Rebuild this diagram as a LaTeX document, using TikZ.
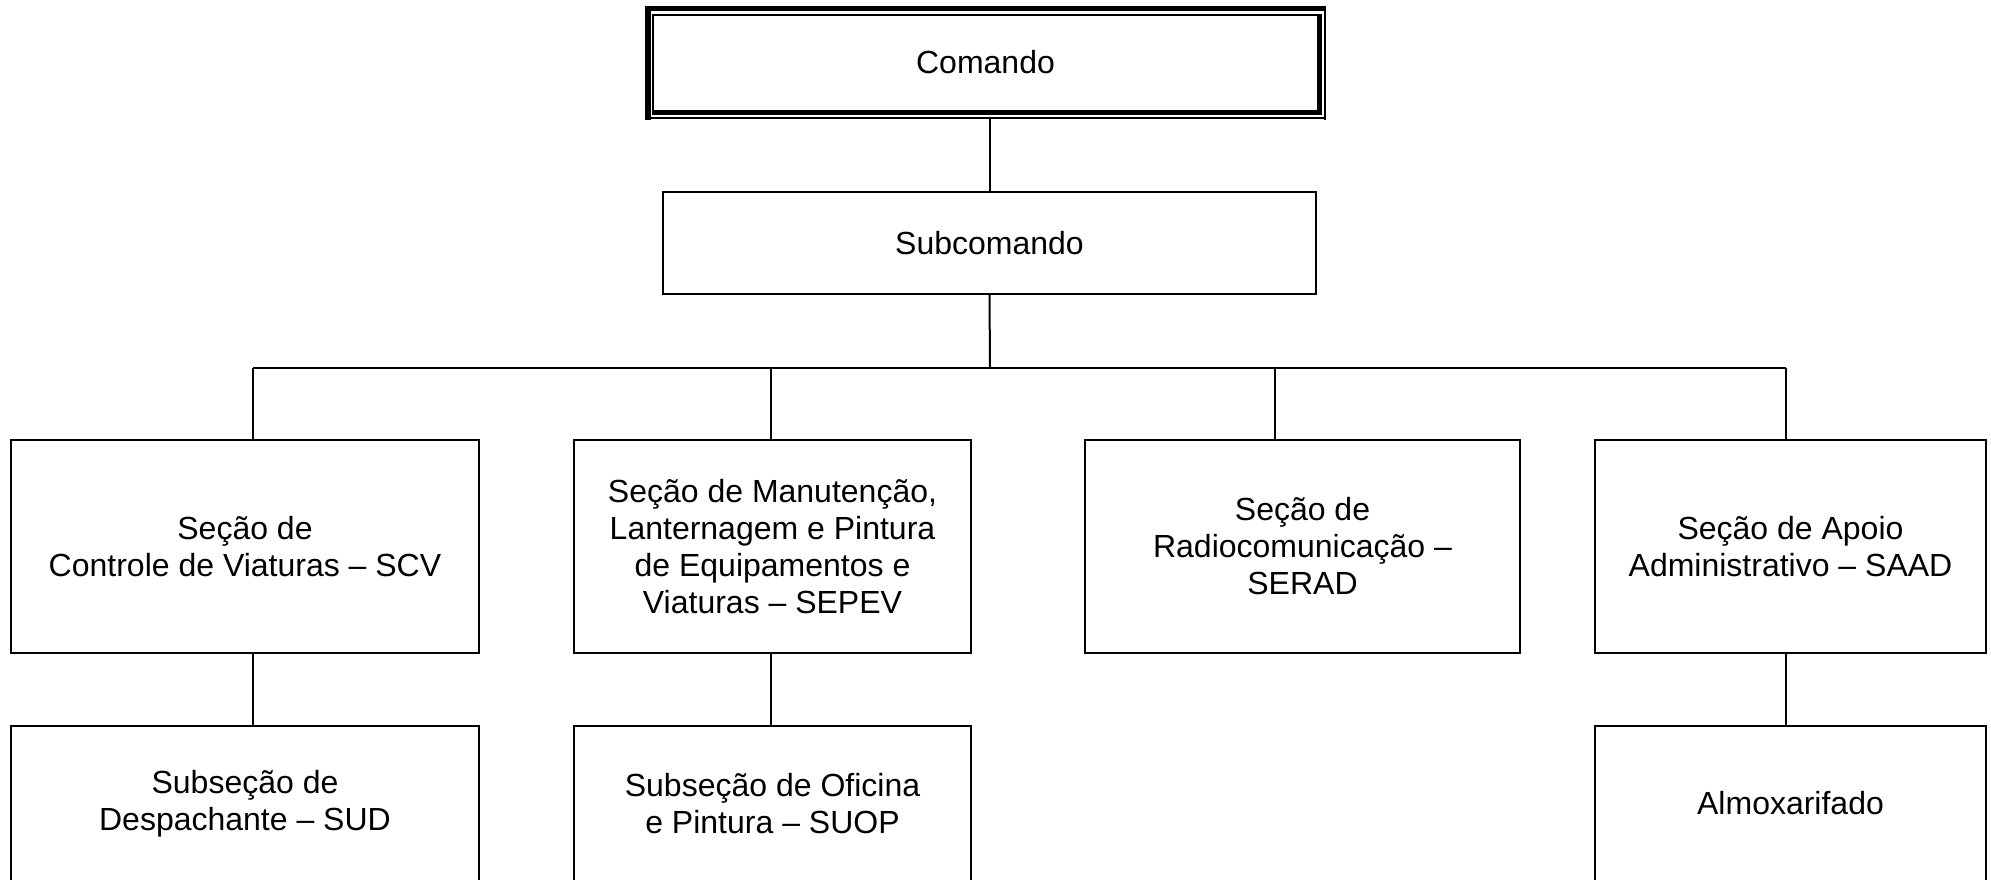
\documentclass[tikz,border=0pt]{standalone}
\usepackage{fontspec}
\setmainfont{Liberation Sans}
\begin{document}
\begin{tikzpicture}[x=0.5pt,y=-0.5pt,
  every node/.style={font=\fontsize{16pt}{18.5pt}\selectfont, align=center, inner sep=0pt},
  orgbox/.style={draw=black, line width=1pt, rectangle, minimum height=106.5pt},
  lowbox/.style={draw=black, line width=1pt, rectangle, minimum height=77.5pt},
  link/.style={draw=black, line width=1pt},
  thinframe/.style={line width=0.8pt}]
\clip (0,0) rectangle (1991,879);
\fill[white] (0,0) rectangle (1991,879);

% Comando (thick-thin double frame)
\node[minimum width=340.5pt, minimum height=56.5pt] (comando) at (985.5,62) {Comando};
\fill (645,6) rectangle (1326,11);
\fill (645,6) rectangle (651,119.5);
\draw[thinframe] (1325,6) -- (1325,120);
\draw[thinframe] (645,118) -- (1325.5,118);
\draw[thinframe] (652,15) -- (1322,15);
\draw[thinframe] (653,14) -- (653,115);
\fill (1317,14) rectangle (1322,115);
\fill (652,110) rectangle (1322,115);

% Subcomando
\node[draw, line width=1pt, minimum width=326.5pt, minimum height=51pt] (sub) at (989.5,243) {Subcomando};

% Second level
\node[orgbox, minimum width=234pt] (scv) at (245,546.5) {Seção de\\Controle de Viaturas – SCV};
\node[orgbox, minimum width=198.5pt] (sepev) at (772.5,546.5) {Seção de Manutenção,\\Lanternagem e Pintura\\de Equipamentos e\\Viaturas – SEPEV};
\node[orgbox, minimum width=217.5pt] (serad) at (1302.5,546.5) {Seção de\\Radiocomunicação –\\SERAD};
\node[orgbox, minimum width=195.5pt] (saad) at (1790.5,546.5) {Seção de Apoio\\Administrativo – SAAD};

% Third level
\node[lowbox, minimum width=234pt] (sud) at (245,803.5) {Subseção de\\Despachante – SUD};
\node[lowbox, minimum width=198.5pt] (suop) at (772.5,803.5) {Subseção de Oficina\\e Pintura – SUOP};
\node[lowbox, minimum width=195.5pt] (almox) at (1790.5,803.5) {Almoxarifado};

% Bus coordinates
\coordinate (b1) at (253,368);
\coordinate (b2) at (771,368);
\coordinate (bc) at (990,368);
\coordinate (b3) at (1275,368);
\coordinate (b4) at (1786,368);

% Connectors
\draw[link] (comando.south -| sub.north) -- (sub.north);
\draw[link] (sub.south) -- (bc);
\draw[link] (b1) -- (b4);
\draw[link] (b1) -- (scv.north -| b1);
\draw[link] (b2) -- (sepev.north -| b2);
\draw[link] (b3) -- (serad.north -| b3);
\draw[link] (b4) -- (saad.north -| b4);
\draw[link] (scv.south -| b1) -- (sud.north -| b1);
\draw[link] (sepev.south -| b2) -- (suop.north -| b2);
\draw[link] (saad.south -| b4) -- (almox.north -| b4);
\end{tikzpicture}
\end{document}
